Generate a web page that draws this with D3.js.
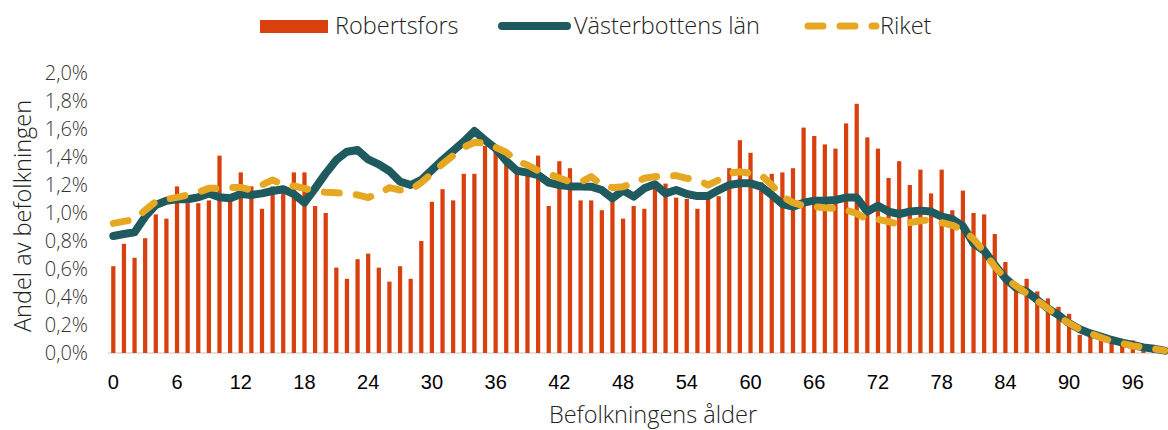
<!DOCTYPE html>
<html>
<head>
<meta charset="utf-8">
<script src="https://cdn.jsdelivr.net/npm/d3@7"></script>
<style>
  body { margin: 0; background: #fff; }
  svg { display: block; }
</style>
</head>
<body>
<div class="chart"></div>
<script>
// ålder 0-99
const ages = d3.range(0, 100);
const xTicks = [0, 6, 12, 18, 24, 30, 36, 42, 48, 54, 60, 66, 72, 78, 84, 90, 96];
const yTicks = [0, 0.2, 0.4, 0.6, 0.8, 1.0, 1.2, 1.4, 1.6, 1.8, 2.0];

// andel av befolkningen i procent
const robertsfors = [
  0.62, 0.78, 0.68, 0.82, 0.99, 0.96, 1.19, 1.07, 1.07, 1.09,
  1.41, 1.09, 1.29, 1.19, 1.03, 1.19, 1.17, 1.29, 1.29, 1.05,
  1.00, 0.61, 0.53, 0.67, 0.71, 0.61, 0.51, 0.62, 0.53, 0.80,
  1.08, 1.17, 1.09, 1.28, 1.28, 1.48, 1.45, 1.40, 1.31, 1.28,
  1.41, 1.05, 1.37, 1.32, 1.09, 1.09, 1.02, 1.09, 0.96, 1.05,
  1.03, 1.19, 1.21, 1.11, 1.10, 1.03, 1.12, 1.12, 1.32, 1.52,
  1.43, 1.22, 1.28, 1.29, 1.32, 1.61, 1.55, 1.49, 1.46, 1.64,
  1.78, 1.54, 1.46, 1.25, 1.37, 1.20, 1.31, 1.14, 1.31, 1.02,
  1.16, 1.00, 0.99, 0.85, 0.65, 0.50, 0.53, 0.44, 0.39, 0.33,
  0.28, 0.13, 0.13, 0.11, 0.09, 0.08, 0.09, 0.04, 0.02, 0.01
];

const vasterbotten = [
  0.836, 0.85, 0.862, 0.974, 1.057, 1.088, 1.098, 1.098, 1.112, 1.14,
  1.112, 1.105, 1.136, 1.129, 1.14, 1.157, 1.17, 1.135, 1.074, 1.176,
  1.283, 1.379, 1.438, 1.45, 1.383, 1.348, 1.30, 1.224, 1.20, 1.236,
  1.307, 1.379, 1.445, 1.51, 1.586, 1.521, 1.462, 1.371, 1.302, 1.288,
  1.271, 1.217, 1.20, 1.19, 1.19, 1.188, 1.164, 1.105, 1.16, 1.117,
  1.176, 1.205, 1.14, 1.164, 1.136, 1.121, 1.121, 1.164, 1.20, 1.212,
  1.212, 1.188, 1.129, 1.064, 1.045, 1.074, 1.088, 1.088, 1.093, 1.11,
  1.11, 1.01, 1.052, 1.01, 0.993, 1.01, 1.017, 1.01, 0.974, 0.957,
  0.907, 0.783, 0.731, 0.629, 0.533, 0.467, 0.438, 0.379, 0.319, 0.271,
  0.212, 0.169, 0.14, 0.117, 0.093, 0.074, 0.057, 0.04, 0.03, 0.017
];

const riket = [
  0.926, 0.94, 0.955, 1.02, 1.081, 1.098, 1.112, 1.129, 1.148, 1.176,
  1.176, 1.183, 1.183, 1.164, 1.20, 1.236, 1.20, 1.193, 1.176, 1.157,
  1.148, 1.145, 1.14, 1.129, 1.11, 1.14, 1.181, 1.164, 1.164, 1.217,
  1.283, 1.35, 1.41, 1.469, 1.505, 1.498, 1.469, 1.433, 1.371, 1.343,
  1.302, 1.279, 1.25, 1.224, 1.22, 1.26, 1.20, 1.181, 1.188, 1.212,
  1.248, 1.26, 1.26, 1.267, 1.248, 1.236, 1.20, 1.236, 1.283, 1.295,
  1.283, 1.271, 1.20, 1.117, 1.074, 1.052, 1.045, 1.038, 1.033, 1.022,
  0.996, 0.955, 0.955, 0.938, 0.919, 0.931, 0.945, 0.95, 0.931, 0.912,
  0.879, 0.814, 0.724, 0.617, 0.533, 0.479, 0.426, 0.374, 0.319, 0.26,
  0.212, 0.169, 0.14, 0.11, 0.086, 0.069, 0.05, 0.04, 0.03, 0.017
];

const colors = { bar: '#d8410e', lan: '#1f5a5e', riket: '#e6a823' };
const font = '"Open Sans", Lato, sans-serif';

let width = 1168;
let height = 430;
let margin = { left: 108, right: -2, top: 73, bottom: 77 };

let svg = d3.select('.chart').append('svg')
  .attr('width', width)
  .attr('height', height);

let xScale = d3.scaleBand()
  .domain(ages)
  .range([margin.left, width - margin.right])
  .paddingInner(0.6)
  .paddingOuter(0.3);

let yScale = d3.scaleLinear()
  .domain([0, 2.0])
  .range([height - margin.bottom, margin.top]);

const cx = a => xScale(a) + xScale.bandwidth() / 2;

// y-axel
let yAxis = d3.axisLeft(yScale)
  .tickValues(yTicks)
  .tickSize(0)
  .tickPadding(0)
  .tickFormat(d => d3.format('.1f')(d).replace('.', ',') + '%');

svg.append('g')
  .attr('transform', `translate(${88},0)`)
  .call(yAxis)
  .call(g => g.select('.domain').remove())
  .selectAll('text')
  .style('font-family', font)
  .style('font-weight', 300)
  .style('font-size', '20px')
  .attr('fill', '#333');

// baslinje
svg.append('line')
  .attr('x1', margin.left)
  .attr('x2', width)
  .attr('y1', yScale(0))
  .attr('y2', yScale(0))
  .attr('stroke', '#d9d9d9')
  .attr('stroke-width', 1.5);

// staplar
svg.append('g')
  .selectAll('rect')
  .data(robertsfors)
  .enter()
  .append('rect')
  .attr('x', (d, i) => xScale(ages[i]))
  .attr('y', d => yScale(d))
  .attr('width', xScale.bandwidth())
  .attr('height', d => yScale(0) - yScale(d))
  .attr('fill', colors.bar);

let lineGen = d3.line()
  .x((d, i) => cx(ages[i]))
  .y(d => yScale(d));

svg.append('path')
  .datum(vasterbotten)
  .attr('d', lineGen)
  .attr('fill', 'none')
  .attr('stroke', colors.lan)
  .attr('stroke-width', 8)
  .attr('stroke-linejoin', 'round')
  .attr('stroke-linecap', 'round');

svg.append('path')
  .datum(riket)
  .attr('d', lineGen)
  .attr('fill', 'none')
  .attr('stroke', colors.riket)
  .attr('stroke-width', 7)
  .attr('stroke-dasharray', '15,17')
  .attr('stroke-linejoin', 'round')
  .attr('stroke-linecap', 'round');

// x-axel
let xAxis = d3.axisBottom(xScale)
  .tickValues(xTicks)
  .tickSize(0)
  .tickPadding(0);

svg.append('g')
  .attr('transform', `translate(0,${yScale(0) + 22})`)
  .call(xAxis)
  .call(g => g.select('.domain').remove())
  .selectAll('text')
  .style('font-family', '"Liberation Sans", Arial, sans-serif')
  .style('font-size', '20px')
  .attr('fill', '#000');

// axeltitlar
svg.append('text')
  .attr('transform', `translate(31,${216}) rotate(-90)`)
  .attr('text-anchor', 'middle')
  .style('font-family', font)
  .style('font-weight', 300)
  .style('font-size', '23.5px')
  .attr('fill', '#222')
  .text('Andel av befolkningen');

svg.append('text')
  .attr('x', 653)
  .attr('y', 423)
  .attr('text-anchor', 'middle')
  .style('font-family', font)
  .style('font-weight', 300)
  .style('font-size', '23.5px')
  .attr('fill', '#222')
  .text('Befolkningens ålder');

// legend
let legend = svg.append('g')
  .style('font-family', font)
  .style('font-weight', 300)
  .style('font-size', '23.5px')
  .attr('fill', '#222');

legend.append('rect')
  .attr('x', 260).attr('y', 20)
  .attr('width', 68).attr('height', 13)
  .attr('fill', colors.bar);
legend.append('text').attr('x', 335).attr('y', 34).text('Robertsfors');

legend.append('line')
  .attr('x1', 502).attr('x2', 567).attr('y1', 26).attr('y2', 26)
  .attr('stroke', colors.lan).attr('stroke-width', 8).attr('stroke-linecap', 'round');
legend.append('text').attr('x', 574).attr('y', 34).text('Västerbottens län');

legend.append('line')
  .attr('x1', 808).attr('x2', 876).attr('y1', 26).attr('y2', 26)
  .attr('stroke', colors.riket).attr('stroke-width', 7)
  .attr('stroke-dasharray', '15,17').attr('stroke-linecap', 'round');
legend.append('text').attr('x', 880).attr('y', 34).text('Riket');
</script>
</body>
</html>
